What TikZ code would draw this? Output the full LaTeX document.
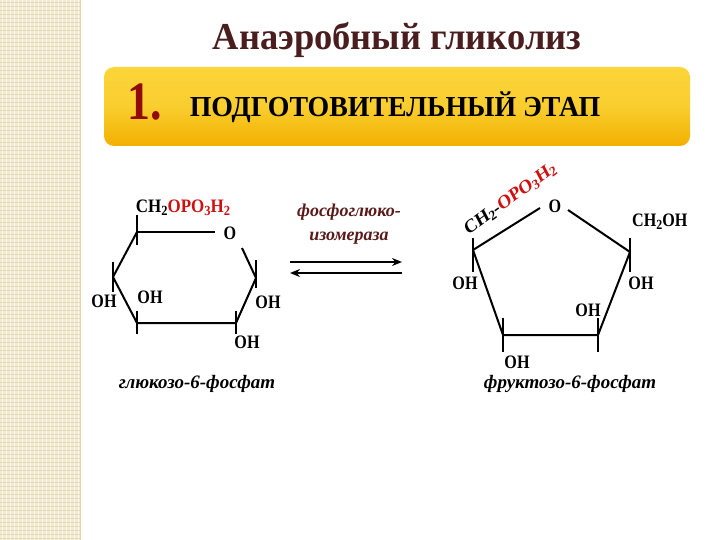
\documentclass[tikz,border=0pt]{standalone}
\usepackage{fontspec}
\setmainfont{Liberation Serif}
\usetikzlibrary{arrows.meta}
\definecolor{strip}{HTML}{F3EBD3}
\definecolor{gridc}{HTML}{E2D6B0}
\definecolor{titlec}{HTML}{4A1E1E}
\definecolor{barA}{HTML}{F2B000}
\definecolor{barB}{HTML}{FBD53A}
\definecolor{redc}{HTML}{D01010}
\definecolor{enz}{HTML}{5A1A1A}
\newcommand{\sbx}[1]{\raisebox{-3pt}{\fontsize{14}{14}\selectfont #1}}
\begin{document}
\begin{tikzpicture}[x=1pt,y=-1pt,
  bond/.style={line width=2pt},
  lbl/.style={font=\fontsize{19}{19}\selectfont\bfseries, inner sep=0pt, xscale=0.85},
  captxt/.style={font=\fontsize{19}{19}\selectfont\itshape\bfseries, inner sep=0pt}]
\useasboundingbox (0,0) rectangle (720,540);
\fill[white] (0,0) rectangle (720,540);
% left strip
\fill[strip] (0,0) rectangle (80,540);
\foreach \y in {2,6,...,538} \draw[gridc,line width=0.5pt] (0,\y) -- (80,\y);
\foreach \x in {2,6,...,78} \draw[white,line width=0.4pt,opacity=0.6] (\x,0) -- (\x,540);
\draw[gridc,line width=1pt] (80,0) -- (80,540);
% title
\node[text=titlec,font=\fontsize{38}{38}\selectfont\bfseries,xscale=0.96] (title) at (397,40) {Анаэробный гликолиз};
% bar
\shade[rounded corners=10pt,top color=barB,bottom color=barA,middle color=barB!80!barA] (104,67) rectangle (690,146);
\node[text=redc!70!black,font=\fontsize{54}{54}\selectfont\bfseries,xscale=0.85] (one) at (145,102) {1.};
\node[font=\fontsize{29}{29}\selectfont\bfseries,xscale=0.96] (stage) at (395,107) {ПОДГОТОВИТЕЛЬНЫЙ ЭТАП};
% glucose
\coordinate (g5) at (137,232); \coordinate (g4) at (113,277);
\coordinate (g3) at (137,323); \coordinate (g2) at (236,323);
\coordinate (g1) at (256,278);
\node[lbl] (gO) at (230,233) {O};
\draw[bond] (g5) -- (215,232);
\draw[bond] (242,248) -- (g1) -- (g2) -- (g3) -- (g4) -- (g5);
\draw[bond] (137,215) -- (137,245);
\draw[bond] (113,262) -- (113,292);
\draw[bond] (256,260) -- (256,288);
\draw[bond] (236,311) -- (236,334);
\draw[bond] (137,311) -- (137,334);
\node[lbl,xscale=1.05] (gch) at (183,208) {CH\sbx{2}\textcolor{redc}{OPO\sbx{3}H\sbx{2}}};
\node[lbl] (goh4) at (104,301) {OH};
\node[lbl] (goh3) at (150,297) {OH};
\node[lbl] (goh1) at (268,302) {OH};
\node[lbl] (goh2) at (247,342) {OH};
\node[captxt] (gname) at (197,384) {глюкозо-6-фосфат};
% enzyme + arrows
\node[captxt,text=enz,align=center,font=\fontsize{18}{24}\selectfont\itshape\bfseries] (enzn) at (349,224) {фосфоглюко-\\изомераза};
\coordinate (a1) at (290,262); \coordinate (a2) at (402,262);
\coordinate (b1) at (402,273); \coordinate (b2) at (290,273);
\draw[line width=2.5pt,-{Stealth[length=10pt,width=8pt]}] (a1) -- (a2);
\draw[line width=2.5pt,-{Stealth[length=10pt,width=8pt]}] (b1) -- (b2);
% fructose
\node[lbl] (fO) at (555,206) {O};
\coordinate (f2) at (473,250); \coordinate (f5) at (630,252);
\coordinate (f3) at (503,335); \coordinate (f4) at (598,335);
\draw[bond] (f2) -- (540,208);
\draw[bond] (568,210) -- (f5);
\draw[bond] (f2) -- (f3) -- (f4) -- (f5);
\draw[bond] (473,238) -- (473,272);
\draw[bond] (630,238) -- (630,272);
\draw[bond] (503,318) -- (503,352);
\draw[bond] (598,318) -- (598,352);
\node[lbl,rotate=32,anchor=base west,xscale=1.1] (fch) at (468,236) {CH\sbx{2}-\textcolor{redc}{OPO\sbx{3}H\sbx{2}}};
\node[lbl,anchor=west] (fch2) at (632,222) {CH\sbx{2}OH};
\node[lbl] (foh2) at (465,283) {OH};
\node[lbl] (foh5) at (641,283) {OH};
\node[lbl] (foh4) at (588,310) {OH};
\node[lbl] (foh3) at (517,362) {OH};
\node[captxt] (fname) at (570,384) {фруктозо-6-фосфат};
\end{tikzpicture}
\end{document}
